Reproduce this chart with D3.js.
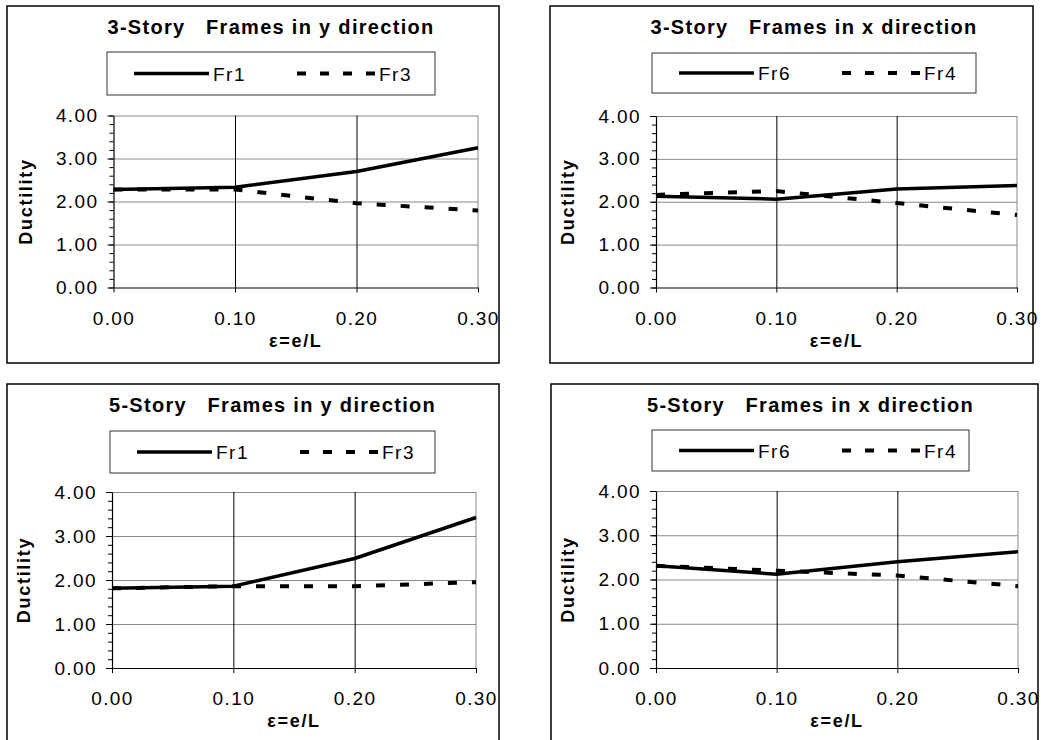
<!DOCTYPE html>
<html>
<head>
<meta charset="utf-8">
<script src="https://cdn.jsdelivr.net/npm/d3@7"></script>
<style>
  body { margin: 0; background: #fff; }
  svg { display: block; font-family: "Liberation Sans", Arial, sans-serif; }
  .tick-label { font-size: 19px; letter-spacing: 1.4px; fill: #000; }
  .chart-title { font-size: 20px; font-weight: bold; letter-spacing: 1.3px; white-space: pre; }
  .axis-title { font-size: 18px; font-weight: bold; letter-spacing: 1.7px; }
  .legend-text { font-size: 19px; letter-spacing: 1.5px; }
</style>
</head>
<body>
<svg id="chart"></svg>
<script>
// eccentricity values (x) shared by every series
const epsValues = [0, 0.1, 0.2, 0.3];
const xTicks = [0, 0.1, 0.2, 0.3];
const yTicks = [0, 1, 2, 3, 4];
const yMinorTicks = d3.range(0, 4.01, 0.2);

const titles = [
  '3-Story   Frames in y direction',
  '3-Story   Frames in x direction',
  '5-Story   Frames in y direction',
  '5-Story   Frames in x direction'
];
const seriesNames = [['Fr1', 'Fr3'], ['Fr6', 'Fr4'], ['Fr1', 'Fr3'], ['Fr6', 'Fr4']];

// ductility
const story3yFr1 = [2.28, 2.33, 2.70, 3.25];
const story3yFr3 = [2.28, 2.28, 1.96, 1.79];
const story3xFr6 = [2.13, 2.06, 2.30, 2.38];
const story3xFr4 = [2.16, 2.25, 1.97, 1.69];
const story5yFr1 = [1.81, 1.86, 2.49, 3.42];
const story5yFr3 = [1.81, 1.86, 1.86, 1.95];
const story5xFr6 = [2.31, 2.12, 2.40, 2.63];
const story5xFr4 = [2.31, 2.20, 2.09, 1.85];

const seriesData = [
  [story3yFr1, story3yFr3],
  [story3xFr6, story3xFr4],
  [story5yFr1, story5yFr3],
  [story5xFr6, story5xFr4]
];

// layout of the four panels (outer box, plot area, legend box)
const layout = [
  {box: [7, 6, 492, 357],   plot: [113.5, 115.5, 364.5, 172], legend: [107, 52, 328, 43]},
  {box: [550, 6, 483, 357], plot: [656, 116, 361, 171.5],     legend: [652, 53, 324, 40]},
  {box: [7, 384, 492, 380], plot: [112, 492, 364, 176],       legend: [110, 431, 325, 42]},
  {box: [551, 384, 487, 380], plot: [656, 491, 362, 177],     legend: [652, 430, 317, 41]}
];

const svg = d3.select('#chart')
    .attr('width', 1045)
    .attr('height', 740);

layout.forEach((lay, i) => {
  const [bx, by, bw, bh] = lay.box;
  const [px, py, pw, ph] = lay.plot;
  const [lx, ly, lw, lh] = lay.legend;

  const g = svg.append('g');

  // outer frame of the panel
  g.append('rect')
      .attr('x', bx).attr('y', by)
      .attr('width', bw).attr('height', bh)
      .attr('fill', 'none')
      .attr('stroke', '#000')
      .attr('stroke-width', 1.5);

  const xScale = d3.scaleLinear().domain([0, 0.3]).range([px, px + pw]);
  const yScale = d3.scaleLinear().domain([0, 4]).range([py + ph, py]);

  // horizontal gridlines (grey) and plot border
  g.append('g')
      .attr('transform', `translate(${px},0)`)
      .call(d3.axisLeft(yScale).tickValues(yTicks.slice(1)).tickSize(-pw).tickFormat(''))
      .call(a => a.select('.domain').remove())
      .selectAll('line').attr('stroke', '#8a8a8a');

  g.append('line')
      .attr('x1', xScale(0.3)).attr('x2', xScale(0.3))
      .attr('y1', yScale(4)).attr('y2', yScale(0))
      .attr('stroke', '#8a8a8a');

  // vertical gridlines (black)
  g.append('g')
      .attr('transform', `translate(0,${py + ph})`)
      .call(d3.axisBottom(xScale).tickValues([0.1, 0.2]).tickSize(-ph).tickFormat(''))
      .call(a => a.select('.domain').remove())
      .selectAll('line').attr('stroke', '#000');

  // minor y ticks
  g.append('g')
      .attr('transform', `translate(${px},0)`)
      .call(d3.axisLeft(yScale).tickValues(yMinorTicks).tickSize(4).tickFormat(''))
      .call(a => a.select('.domain').remove())
      .selectAll('line').attr('stroke', '#000');

  // y axis
  const yAxisG = g.append('g')
      .attr('transform', `translate(${px},0)`)
      .call(d3.axisLeft(yScale).tickValues(yTicks).tickSize(6).tickPadding(9)
        .tickSizeOuter(0).tickFormat(d3.format('.2f')));
  yAxisG.select('.domain').attr('stroke', '#000').attr('stroke-width', 1.2);
  yAxisG.selectAll('text').attr('class', 'tick-label').attr('font-family', null).attr('font-size', null);

  // x axis
  const xAxisG = g.append('g')
      .attr('transform', `translate(0,${py + ph})`)
      .call(d3.axisBottom(xScale).tickValues(xTicks).tickSize(5).tickPadding(19)
        .tickSizeOuter(0).tickFormat(d3.format('.2f')));
  xAxisG.select('.domain').attr('stroke', '#000').attr('stroke-width', 1.2);
  xAxisG.selectAll('text').attr('class', 'tick-label').attr('font-family', null).attr('font-size', null);

  // series
  const line = d3.line()
      .x((d, k) => xScale(epsValues[k]))
      .y(d => yScale(d));

  g.append('path')
      .datum(seriesData[i][1])
      .attr('d', line)
      .attr('fill', 'none')
      .attr('stroke', '#000')
      .attr('stroke-width', 4)
      .attr('stroke-dasharray', '9,15');

  g.append('path')
      .datum(seriesData[i][0])
      .attr('d', line)
      .attr('fill', 'none')
      .attr('stroke', '#000')
      .attr('stroke-width', 3.5);

  // titles
  g.append('text')
      .attr('class', 'chart-title')
      .attr('x', lx + lw / 2)
      .attr('y', by + 28)
      .attr('text-anchor', 'middle')
      .text(titles[i]);

  g.append('text')
      .attr('class', 'axis-title')
      .attr('x', (xScale(0) + xScale(0.3)) / 2)
      .attr('y', py + ph + 59)
      .attr('text-anchor', 'middle')
      .text('ε=e/L');

  g.append('text')
      .attr('class', 'axis-title')
      .attr('transform', `translate(${px - 82},${py + ph / 2}) rotate(-90)`)
      .attr('text-anchor', 'middle')
      .text('Ductility');

  // legend
  g.append('rect')
      .attr('x', lx).attr('y', ly)
      .attr('width', lw).attr('height', lh)
      .attr('fill', '#fff')
      .attr('stroke', '#333')
      .attr('stroke-width', 1);

  const midY = ly + lh / 2;
  g.append('line')
      .attr('x1', lx + 27).attr('x2', lx + 102)
      .attr('y1', midY).attr('y2', midY)
      .attr('stroke', '#000').attr('stroke-width', 3.5);
  g.append('text')
      .attr('class', 'legend-text')
      .attr('x', lx + 106).attr('y', midY + 7)
      .text(seriesNames[i][0]);

  g.append('line')
      .attr('x1', lx + 190).attr('x2', lx + 270)
      .attr('y1', midY).attr('y2', midY)
      .attr('stroke', '#000').attr('stroke-width', 4)
      .attr('stroke-dasharray', '9,14');
  g.append('text')
      .attr('class', 'legend-text')
      .attr('x', lx + 272).attr('y', midY + 7)
      .text(seriesNames[i][1]);
});
</script>
</body>
</html>
